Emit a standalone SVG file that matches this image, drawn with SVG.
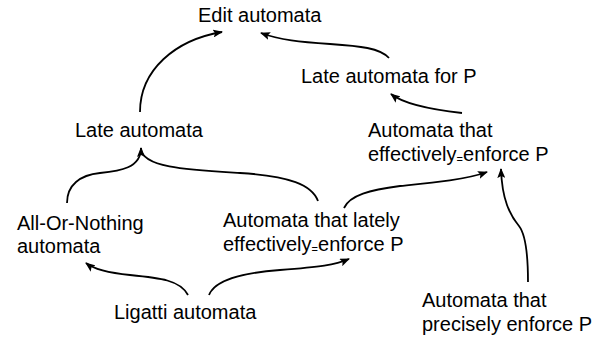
<svg xmlns="http://www.w3.org/2000/svg" width="606" height="338" viewBox="0 0 606 338">
<defs>
<style>
text{font-family:"Liberation Sans",Arial,sans-serif;font-size:20px;fill:#000}
.sub{font-size:11px}
.c{fill:none;stroke:#000;stroke-width:1.8}
</style>
<marker id="ah" markerWidth="10" markerHeight="8" refX="9" refY="4" orient="auto" markerUnits="userSpaceOnUse">
<path d="M0,0 L10,4 L0,8 L2,4 z" fill="#000"/>
</marker>
</defs>
<rect width="606" height="338" fill="#fff"/>
<g id="connectors">
<path class="c" d="M140,112 C140,70 175,40 222,32" marker-end="url(#ah)"/>
<path class="c" d="M389,58 C380,48 360,46 330,44 C300,42 280,40 261,33" marker-end="url(#ah)"/>
<path class="c" d="M462,113 C435,110 405,105 391,94" marker-end="url(#ah)"/>
<path class="c" d="M67,203 C67,185 80,175 100,173 C120,171 141,168 141,148"/>
<path class="c" d="M318,201 C312,185 290,176 240,173 C190,170 141,168 141,148" marker-end="url(#ah)"/>
<path class="c" d="M344,208 C350,195 370,190 400,186 C430,183 465,180 487,172" marker-end="url(#ah)"/>
<path class="c" d="M528,282 C528,255 526,235 519,226 C510,215 502,200 501,169" marker-end="url(#ah)"/>
<path class="c" d="M188,295 C180,280 160,278 130,275 C110,273 95,270 86,263" marker-end="url(#ah)"/>
<path class="c" d="M209,295 C215,280 240,273 280,270 C320,267 335,265 349,259" marker-end="url(#ah)"/>
</g>
<g id="edit"><text x="198" y="22">Edit automata</text></g>
<g id="lateP"><text x="301" y="83">Late automata for P</text></g>
<g id="late"><text x="75" y="137">Late automata</text></g>
<g id="effective"><text x="368" y="137">Automata that</text><text x="368" y="161">effectively<tspan class="sub" dy="2">=</tspan><tspan dy="-2">enforce P</tspan></text></g>
<g id="allornothing"><text x="17" y="230">All-Or-Nothing</text><text x="17" y="253">automata</text></g>
<g id="lately"><text x="223" y="227">Automata that lately</text><text x="223" y="251">effectively<tspan class="sub" dy="2">=</tspan><tspan dy="-2">enforce P</tspan></text></g>
<g id="ligatti"><text x="114" y="319">Ligatti automata</text></g>
<g id="precise"><text x="422" y="307">Automata that</text><text x="422" y="331">precisely enforce P</text></g>
</svg>
